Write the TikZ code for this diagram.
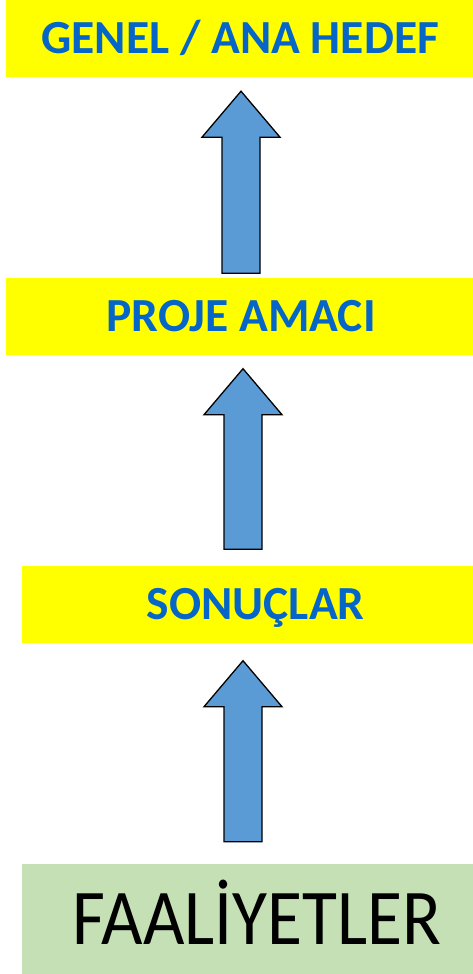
\documentclass[tikz,border=0pt]{standalone}
\usepackage{fontspec}
\setmainfont{Carlito}
\usetikzlibrary{calc}
\definecolor{hedefyellow}{HTML}{FFFF00}
\definecolor{hedefblue}{HTML}{0566C8}
\definecolor{arrowblue}{HTML}{5B9BD5}
\definecolor{faalgreen}{HTML}{C5E0B4}
\tikzset{
  stage/.style={fill=hedefyellow, anchor=west, inner sep=0pt, minimum height=77pt,
    text=hedefblue, font=\fontsize{47.5}{50}\bfseries\selectfont, text height=30pt, text depth=0pt},
  blockarrow/.style={draw=black, line width=1.3pt, fill=arrowblue, line join=miter}
}
\begin{document}
\begin{tikzpicture}[x=1pt,y=-1pt]
      \useasboundingbox (0,0) rectangle (473,974);
      \fill[white] (0,0) rectangle (473,974);

      \node[stage, minimum width=468pt] (hedef) at (6,38.5) {GENEL / ANA HEDEF};
      \node[stage, minimum width=470pt] (amac) at (6,316) {PROJE AMACI};
      \node[stage, minimum width=467pt] (sonuc) at (22,604) {SONUÇLAR};
      \node[stage, fill=faalgreen, minimum width=470pt, minimum height=110pt, text=black,
        font=\fontsize{79}{82}\selectfont, text height=50pt] (faal) at (22,919) {\scalebox{0.906}[1]{FAALİYETLER}};

      \foreach \lo/\hi/\xa/\gb/\gt in {amac/hedef/241/4pt/14pt, sonuc/amac/243/16pt/14pt, faal/sonuc/243/22pt/18pt}
        \draw[blockarrow] let \p1=(\xa,0 |- \lo.north), \p2=(\xa,0 |- \hi.south) in
          (\x1-19pt,\y1+\gb) -- (\x1+19pt,\y1+\gb) -- (\x1+19pt,\y2-\gt-46pt) -- (\x1+39pt,\y2-\gt-46pt)
          -- (\x1,\y2-\gt) -- (\x1-39pt,\y2-\gt-46pt) -- (\x1-19pt,\y2-\gt-46pt) -- cycle;
    \end{tikzpicture}
\end{document}
